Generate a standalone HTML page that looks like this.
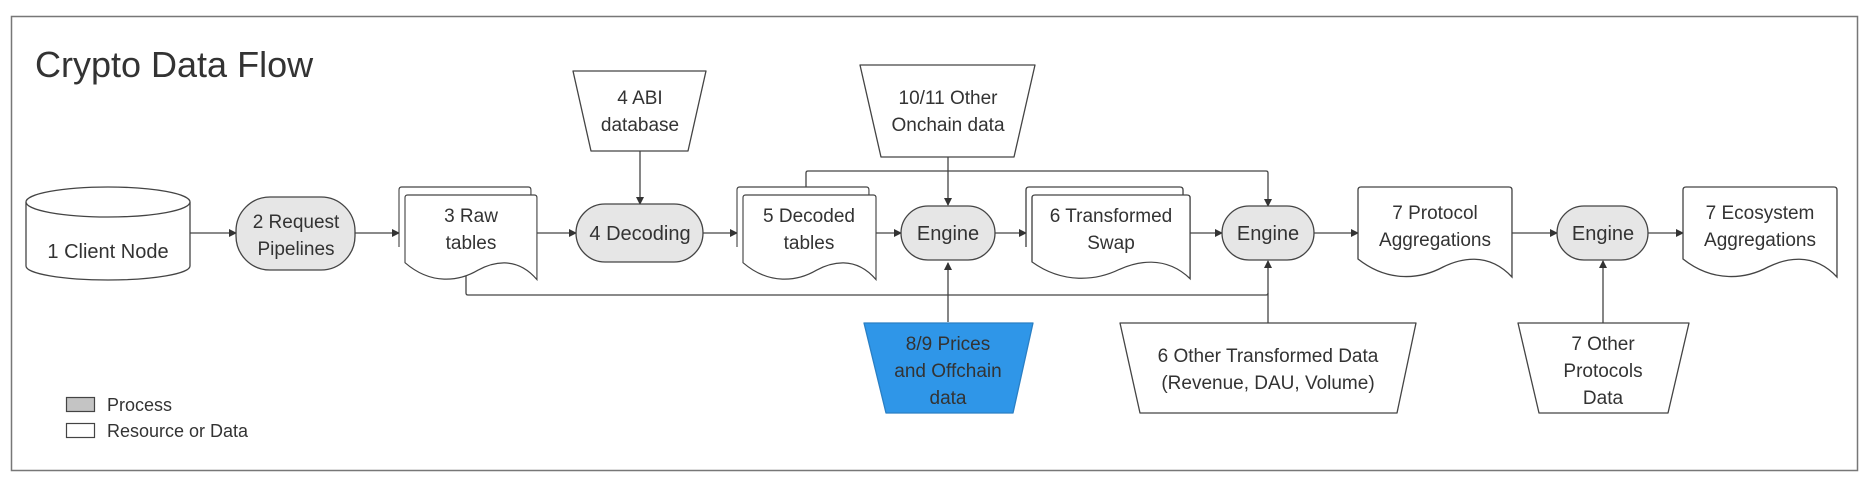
<!DOCTYPE html>
<html><head><meta charset="utf-8"><style>
html,body{margin:0;padding:0;background:#fff;}
svg{display:block;}
text{font-family:"Liberation Sans",sans-serif;fill:#333;}
</style></head><body>
<svg width="1872" height="487" viewBox="0 0 1872 487" xmlns="http://www.w3.org/2000/svg">
<defs>
<marker id="a" markerWidth="8" markerHeight="8" refX="7" refY="4" orient="auto" markerUnits="userSpaceOnUse">
<path d="M0,0 L8,4 L0,8 Z" fill="#333"/></marker>
<g id="doc"><path d="M0,3 Q0,0 3,0 H149 Q152,0 152,3 V90 C128,64 100,72 84,80 C62,92 30,96 0,72 Z" stroke="#444" stroke-width="1.3" fill="#fff"/></g>
<g id="back"><path d="M0,60 V3 Q0,0 3,0 H149 Q152,0 152,3 V20" stroke="#444" stroke-width="1.3" fill="#fff"/></g>
</defs>
<rect x="11.5" y="16.5" width="1846" height="454" fill="#fff" stroke="#777" stroke-width="1.5"/>
<text x="35" y="77" font-size="36">Crypto Data Flow</text>

<g stroke="#444" stroke-width="1.3" fill="none">
<line x1="190" y1="233" x2="236" y2="233" marker-end="url(#a)"/>
<line x1="355" y1="233" x2="399" y2="233" marker-end="url(#a)"/>
<line x1="537" y1="233" x2="576" y2="233" marker-end="url(#a)"/>
<line x1="703" y1="233" x2="737" y2="233" marker-end="url(#a)"/>
<line x1="876" y1="233" x2="901" y2="233" marker-end="url(#a)"/>
<line x1="995" y1="233" x2="1026" y2="233" marker-end="url(#a)"/>
<line x1="1190" y1="233" x2="1222" y2="233" marker-end="url(#a)"/>
<line x1="1314" y1="233" x2="1358" y2="233" marker-end="url(#a)"/>
<line x1="1512" y1="233" x2="1557" y2="233" marker-end="url(#a)"/>
<line x1="1648" y1="233" x2="1683" y2="233" marker-end="url(#a)"/>
<line x1="640" y1="151" x2="640" y2="204" marker-end="url(#a)"/>
<line x1="948" y1="157" x2="948" y2="205" marker-end="url(#a)"/>
<line x1="948" y1="322" x2="948" y2="263" marker-end="url(#a)"/>
<path d="M806,187 V173 Q806,171 808,171 H1266 Q1268,171 1268,173 V206" marker-end="url(#a)"/>
<path d="M466,272 V293 Q466,295 468,295 H1266 Q1268,295 1268,293"/>
<line x1="1268" y1="323" x2="1268" y2="261" marker-end="url(#a)"/>
<line x1="1603" y1="323" x2="1603" y2="261" marker-end="url(#a)"/>
</g>

<path d="M26,202 V266 A82,14 0 0 0 190,266 V202" fill="#fff" stroke="#444" stroke-width="1.3"/>
<ellipse cx="108" cy="202" rx="82" ry="15" fill="#fff" stroke="#444" stroke-width="1.3"/>
<text x="108" y="258" font-size="20" text-anchor="middle">1 Client Node</text>

<rect x="236" y="197" width="119" height="73" rx="34" fill="#e6e6e6" stroke="#444" stroke-width="1.3"/>
<text x="296" y="228" font-size="19" text-anchor="middle">2 Request</text>
<text x="296" y="255" font-size="19" text-anchor="middle">Pipelines</text>

<g transform="translate(399,187) scale(0.868,1)"><use href="#back"/></g>
<g transform="translate(405,195) scale(0.868,0.94)"><use href="#doc"/></g>
<text x="471" y="222" font-size="19" text-anchor="middle">3 Raw</text>
<text x="471" y="249" font-size="19" text-anchor="middle">tables</text>

<path d="M573,71 H706 L688,151 H591 Z" fill="#fff" stroke="#444" stroke-width="1.3" stroke-linejoin="round"/>
<text x="640" y="104" font-size="19" text-anchor="middle">4 ABI</text>
<text x="640" y="131" font-size="19" text-anchor="middle">database</text>

<rect x="576" y="204" width="127" height="58" rx="29" fill="#e6e6e6" stroke="#444" stroke-width="1.3"/>
<text x="640" y="240" font-size="20" text-anchor="middle">4 Decoding</text>

<g transform="translate(737,187) scale(0.868,1)"><use href="#back"/></g>
<g transform="translate(743,195) scale(0.875,0.94)"><use href="#doc"/></g>
<text x="809" y="222" font-size="19" text-anchor="middle">5 Decoded</text>
<text x="809" y="249" font-size="19" text-anchor="middle">tables</text>

<path d="M860,65 H1035 L1014,157 H881 Z" fill="#fff" stroke="#444" stroke-width="1.3" stroke-linejoin="round"/>
<text x="948" y="104" font-size="19" text-anchor="middle">10/11 Other</text>
<text x="948" y="131" font-size="19" text-anchor="middle">Onchain data</text>

<rect x="901" y="206" width="94" height="54" rx="27" fill="#e6e6e6" stroke="#444" stroke-width="1.3"/>
<text x="948" y="240" font-size="20" text-anchor="middle">Engine</text>

<g transform="translate(1026,187) scale(1.033,1)"><use href="#back"/></g>
<g transform="translate(1032,195) scale(1.04,0.93)"><use href="#doc"/></g>
<text x="1111" y="222" font-size="19" text-anchor="middle">6 Transformed</text>
<text x="1111" y="249" font-size="19" text-anchor="middle">Swap</text>

<rect x="1222" y="206" width="92" height="54" rx="27" fill="#e6e6e6" stroke="#444" stroke-width="1.3"/>
<text x="1268" y="240" font-size="20" text-anchor="middle">Engine</text>

<g transform="translate(1358,187) scale(1.013,1)"><use href="#doc"/></g>
<text x="1435" y="219" font-size="19" text-anchor="middle">7 Protocol</text>
<text x="1435" y="246" font-size="19" text-anchor="middle">Aggregations</text>

<rect x="1557" y="206" width="91" height="54" rx="27" fill="#e6e6e6" stroke="#444" stroke-width="1.3"/>
<text x="1603" y="240" font-size="20" text-anchor="middle">Engine</text>

<g transform="translate(1683,187) scale(1.013,1)"><use href="#doc"/></g>
<text x="1760" y="219" font-size="19" text-anchor="middle">7 Ecosystem</text>
<text x="1760" y="246" font-size="19" text-anchor="middle">Aggregations</text>

<path d="M864,323 H1033 L1013,413 H886 Z" fill="#2f96e8" stroke="#2a7fc4" stroke-width="1.3" stroke-linejoin="round"/>
<text x="948" y="350" font-size="19" text-anchor="middle">8/9 Prices</text>
<text x="948" y="377" font-size="19" text-anchor="middle">and Offchain</text>
<text x="948" y="404" font-size="19" text-anchor="middle">data</text>

<path d="M1120,323 H1416 L1397,413 H1140 Z" fill="#fff" stroke="#444" stroke-width="1.3" stroke-linejoin="round"/>
<text x="1268" y="362" font-size="19" text-anchor="middle">6 Other Transformed Data</text>
<text x="1268" y="389" font-size="19" text-anchor="middle">(Revenue, DAU, Volume)</text>

<path d="M1518,323 H1689 L1668,413 H1539 Z" fill="#fff" stroke="#444" stroke-width="1.3" stroke-linejoin="round"/>
<text x="1603" y="350" font-size="19" text-anchor="middle">7 Other</text>
<text x="1603" y="377" font-size="19" text-anchor="middle">Protocols</text>
<text x="1603" y="404" font-size="19" text-anchor="middle">Data</text>

<rect x="66.5" y="397.5" width="28" height="14" fill="#c4c4c4" stroke="#444" stroke-width="1.2"/>
<rect x="66.5" y="423.5" width="28" height="14" fill="#fff" stroke="#444" stroke-width="1.2"/>
<text x="107" y="411" font-size="18">Process</text>
<text x="107" y="437" font-size="18">Resource or Data</text>
</svg>
</body></html>
